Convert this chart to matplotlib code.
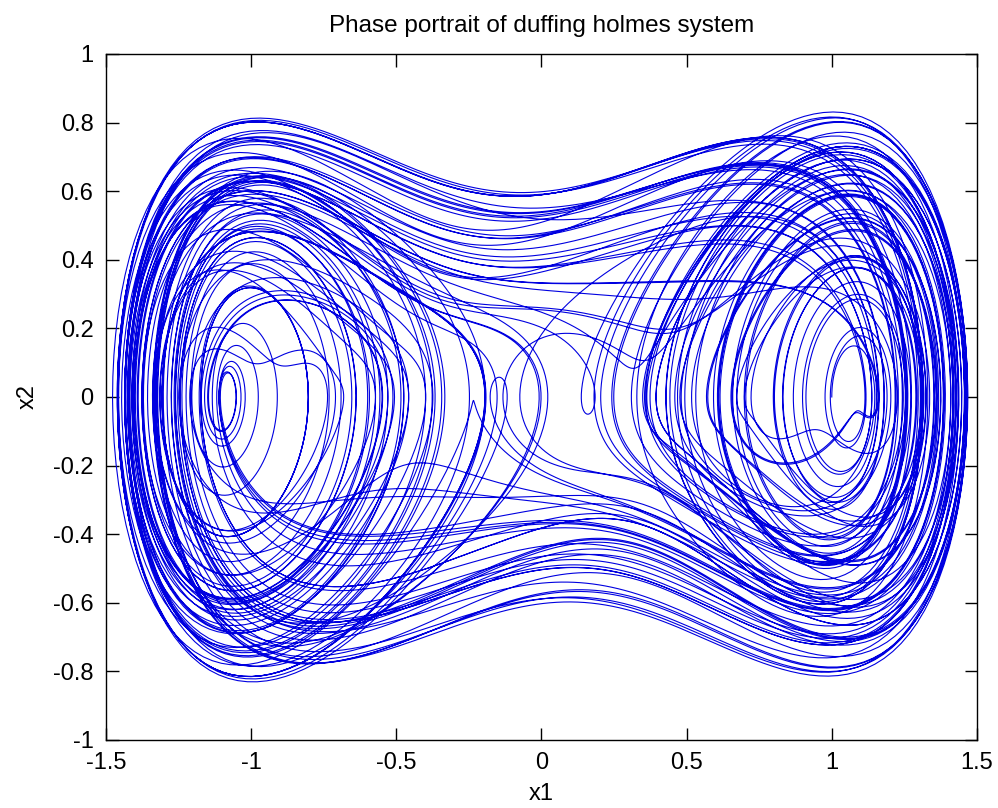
import numpy as np
import matplotlib.pyplot as plt

# Duffing-Holmes system: x1' = x2, x2' = x1 - x1^3 - delta*x2 + gamma*cos(omega*t)
delta = 0.25
gamma = 0.3
omega = 1.0
x_init = [1.0, 0.0]
t_span = [0.0, 900.0]
step = 0.04

x_ticks = [-1.5, -1, -0.5, 0, 0.5, 1, 1.5]
y_ticks = [-1, -0.8, -0.6, -0.4, -0.2, 0, 0.2, 0.4, 0.6, 0.8, 1]


def rhs(t, x):
    return np.array([x[1], x[0] - x[0] ** 3 - delta * x[1] + gamma * np.cos(omega * t)])


def integrate():
    n = int((t_span[1] - t_span[0]) / step)
    out = np.zeros((n + 1, 2))
    x = np.array(x_init)
    t = t_span[0]
    out[0] = x
    for i in range(n):
        k1 = rhs(t, x)
        k2 = rhs(t + step / 2, x + step / 2 * k1)
        k3 = rhs(t + step / 2, x + step / 2 * k2)
        k4 = rhs(t + step, x + step * k3)
        x = x + step / 6 * (k1 + 2 * k2 + 2 * k3 + k4)
        t += step
        out[i + 1] = x
    return out


sol = integrate()

plt.rcParams['font.family'] = ['Liberation Sans', 'DejaVu Sans']
fig = plt.figure(figsize=(9.98, 8.08), dpi=100)
ax = fig.add_axes([0.1062, 0.0842, 0.8727, 0.849])
ax.plot(sol[:, 0], sol[:, 1], color='#0000e0', lw=0.8)
ax.set_xlim(-1.5, 1.5)
ax.set_ylim(-1, 1)
ax.set_xticks(x_ticks)
ax.set_xticklabels([f"{v:g}" for v in x_ticks])
ax.set_yticks(y_ticks)
ax.set_yticklabels([f"{v:g}" for v in y_ticks])
ax.tick_params(direction='in', length=9, width=1, top=True, right=True, labelsize=17)
ax.tick_params(axis='x', pad=9)
ax.tick_params(axis='y', pad=9)
for s in ax.spines.values():
    s.set_linewidth(1)
ax.set_xlabel('x1', fontsize=17, labelpad=6)
ax.set_ylabel('x2', fontsize=17, labelpad=10)
ax.set_title('Phase portrait of duffing holmes system', fontsize=17.5, pad=16)
fig.savefig('out.png', dpi=100)
